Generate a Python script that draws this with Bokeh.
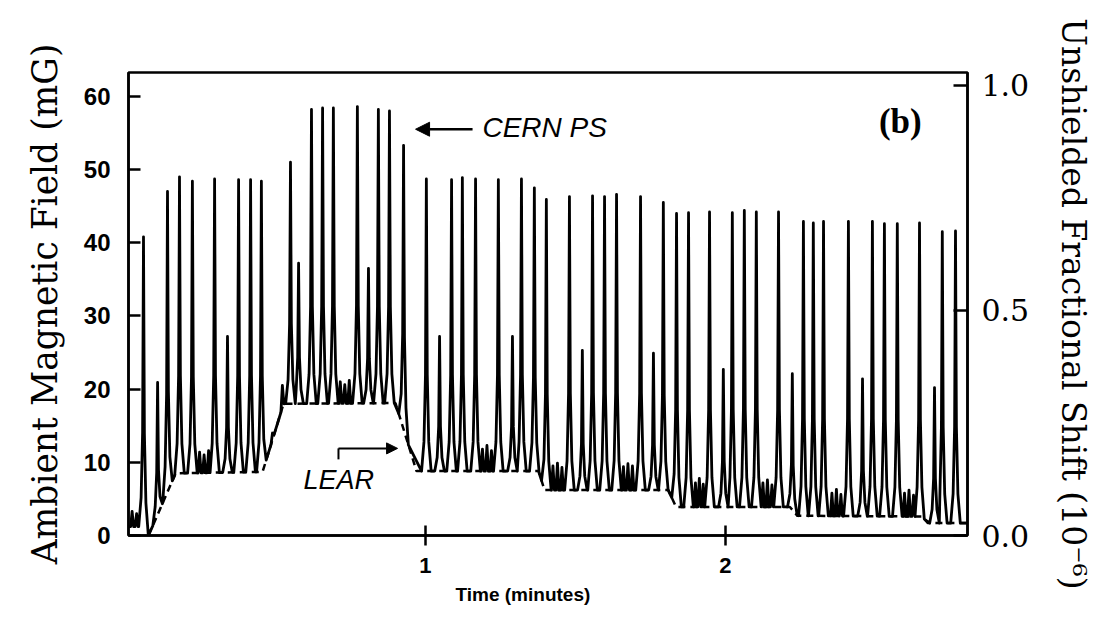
import numpy as np
from bokeh.plotting import figure
from bokeh.models import (Range1d, LinearAxis, FixedTicker, Label, Arrow,
                          NormalHead, PrintfTickFormatter, Title)
from bokeh.embed import file_html
from bokeh.resources import INLINE

# ---------------- data ----------------
# CERN PS pulses: time (minutes), field (mG)
peak_t = [0.060, 0.107, 0.140, 0.180, 0.223, 0.297, 0.340, 0.377, 0.417, 0.453,
          0.550, 0.577, 0.620, 0.657, 0.693, 0.773, 0.810, 0.843, 0.880, 0.927,
          1.003, 1.047, 1.087, 1.123, 1.167, 1.243, 1.290, 1.320, 1.363, 1.403,
          1.480, 1.523, 1.557, 1.597, 1.637, 1.717, 1.760, 1.793, 1.837, 1.877,
          1.947, 1.993, 2.023, 2.063, 2.103, 2.177, 2.223, 2.260, 2.293, 2.327,
          2.410, 2.457, 2.490, 2.530, 2.573, 2.647, 2.697, 2.723, 2.767]
peak_v = [40.8, 20.9, 47.0, 49.0, 48.4, 48.7, 27.2, 48.6, 48.6, 48.4,
          51.0, 37.2, 58.2, 58.4, 58.4, 58.6, 36.5, 58.2, 58.0, 53.3,
          48.7, 27.2, 48.6, 48.9, 48.7, 48.6, 27.2, 48.7, 47.5, 45.9,
          46.3, 25.3, 46.4, 46.3, 46.6, 46.3, 24.9, 45.5, 44.0, 44.1,
          44.2, 22.7, 44.1, 44.4, 44.2, 44.2, 22.1, 42.9, 42.7, 42.9,
          42.9, 21.4, 42.9, 42.6, 42.6, 42.7, 20.2, 41.5, 41.6]

# small ripples between pulses
wiggle_t = [0.022, 0.037, 0.247, 0.262, 0.277, 0.490, 0.523, 0.716, 0.731, 0.746,
            1.190, 1.205, 1.220, 1.425, 1.440, 1.455, 1.660, 1.675, 1.690,
            1.900, 1.913, 1.926, 2.125, 2.140, 2.155, 2.355, 2.370, 2.385,
            2.597, 2.612, 2.627]
wiggle_v = [3.3, 3.0, 11.4, 11.0, 11.6, 14.0, 20.5, 21.0, 20.6, 21.2,
            11.8, 12.3, 11.6, 9.5, 9.9, 9.3, 9.4, 9.8, 9.5,
            7.2, 7.8, 7.0, 7.2, 7.6, 6.9, 5.8, 6.3, 5.6,
            5.8, 6.2, 5.5]

# LEAR contribution (dashed baseline)
lear_t = [0.077, 0.167, 0.457, 0.527, 0.900, 0.970, 1.377, 1.397, 1.810, 1.835,
          2.215, 2.240, 2.655, 2.675, 2.807]
lear_v = [0.0, 8.5, 8.7, 18.0, 18.1, 8.8, 8.8, 6.2, 6.2, 3.9,
          3.9, 2.7, 2.6, 1.7, 1.7]

# level before LEAR starts
pre_t = [0.010, 0.052]
pre_v = [1.2, 1.2]

x_ticks = [1, 2]
y_ticks = [0, 10, 20, 30, 40, 50, 60]
shift_ticks = [0.0, 0.5, 1.0]
mG_per_unit_shift = 61.5

# ---------------- build trace (pulse outline drawn around each read peak) ----
base_t = np.array(pre_t + lear_t)
base_v = np.array(pre_v + lear_v)


def base(t):
    return float(np.interp(t, base_t, base_v))


PULSE_SHAPE = [(-0.016, 0.0), (-0.008, 0.10), (-0.003, 0.33), (0.0, 1.0),
               (0.003, 0.33), (0.008, 0.10), (0.016, 0.0)]
RIPPLE_SHAPE = [(-0.005, 0.0), (0.0, 1.0), (0.005, 0.0)]

events = sorted([(t, v, PULSE_SHAPE) for t, v in zip(peak_t, peak_v)] +
                [(t, v, RIPPLE_SHAPE) for t, v in zip(wiggle_t, wiggle_v)],
                key=lambda e: e[0])
xs = [pre_t[0]]
ys = [base(pre_t[0])]
for t, v, shape in events:
    for dt, frac in shape:
        x = t + dt
        if x <= xs[-1]:
            continue
        b = base(x)
        xs.append(x)
        ys.append(b + frac * (v - b))
xs.append(lear_t[-1])
ys.append(base(lear_t[-1]))

# ---------------- figure ----------------
X0, X1 = 0.010, 2.807
Y0, Y1 = 0.0, 63.25

p = figure(frame_width=839, frame_height=463, output_backend="svg",
           toolbar_location=None, x_range=Range1d(X0, X1), y_range=Range1d(Y0, Y1),
           min_border_left=128, min_border_right=128, min_border_top=72,
           min_border_bottom=100, background_fill_color="white",
           border_fill_color="white")
p.grid.visible = False
p.outline_line_color = "black"
p.outline_line_width = 2.5

p.line(lear_t, lear_v, line_color="black", line_width=2.5, line_dash="7 5")
p.line(xs, ys, line_color="black", line_width=2.8, line_join="round")

# axes
xa = p.xaxis[0]
xa.ticker = FixedTicker(ticks=x_ticks)
xa.major_label_text_font = "Liberation Sans"
xa.major_label_text_font_style = "bold"
xa.major_label_text_font_size = "22px"
xa.major_label_standoff = 12
xa.major_tick_in = 10
xa.major_tick_out = 10
xa.minor_tick_in = 0
xa.minor_tick_out = 0

ya = p.yaxis[0]
ya.ticker = FixedTicker(ticks=y_ticks)
ya.axis_label = "Ambient Magnetic Field (mG)"
ya.axis_label_text_font = "DejaVu Serif"
ya.axis_label_text_font_style = "normal"
ya.axis_label_text_font_size = "34.5px"
ya.axis_label_standoff = 16
ya.major_label_text_font = "Liberation Sans"
ya.major_label_text_font_style = "bold"
ya.major_label_text_font_size = "24px"
ya.major_label_standoff = 18
ya.major_tick_in = 12
ya.major_tick_out = 0
ya.minor_tick_in = 0
ya.minor_tick_out = 0

p.extra_y_ranges = {"shift": Range1d(Y0 / mG_per_unit_shift, Y1 / mG_per_unit_shift)}
ra = LinearAxis(y_range_name="shift", ticker=FixedTicker(ticks=shift_ticks),
                formatter=PrintfTickFormatter(format="%.1f"))
ra.axis_label = "Unshielded Fractional Shift (10\u207b\u2076)"
ra.axis_label_text_font = "DejaVu Serif"
ra.axis_label_text_font_style = "normal"
ra.axis_label_text_font_size = "33px"
ra.axis_label_standoff = 22
ra.major_label_text_font = "DejaVu Serif"
ra.major_label_text_font_size = "30px"
ra.major_label_standoff = 14
ra.major_tick_in = 14
ra.major_tick_out = 0
ra.minor_tick_in = 0
ra.minor_tick_out = 0
p.add_layout(ra, "right")

for ax in (xa, ya, ra):
    ax.axis_line_width = 2.5
    ax.major_tick_line_width = 2.5
    ax.axis_line_color = "black"
    ax.major_tick_line_color = "black"
    ax.major_label_text_color = "black"
    ax.axis_label_text_color = "black"

# x-axis title, set a little left of centre as in the original
p.add_layout(Title(text="Time (minutes)", align="left", offset=327,
                   text_font="Liberation Sans", text_font_style="bold",
                   text_font_size="19px", text_color="black", standoff=12), "below")

# annotations
p.add_layout(Label(x=1.19, y=55.7, text="CERN PS", text_font="Liberation Sans",
                   text_font_style="italic", text_font_size="28px",
                   text_baseline="middle", text_color="black"))
p.add_layout(Arrow(end=NormalHead(size=14, fill_color="black", line_color="black"),
                   x_start=1.157, y_start=55.5, x_end=0.967, y_end=55.5,
                   line_width=2.5, line_color="black"))
p.add_layout(Label(x=0.593, y=7.65, text="LEAR", text_font="Liberation Sans",
                   text_font_style="italic", text_font_size="27px",
                   text_baseline="middle", text_color="black"))
p.add_layout(Arrow(end=None, x_start=0.71, y_start=10.4, x_end=0.71, y_end=11.9,
                   line_width=2, line_color="black"))
p.add_layout(Arrow(end=NormalHead(size=11, fill_color="black", line_color="black"),
                   x_start=0.71, y_start=11.9, x_end=0.907, y_end=11.9,
                   line_width=2, line_color="black"))
p.add_layout(Label(x=2.583, y=56.6, text="(b)", text_font="Liberation Serif",
                   text_font_style="bold", text_font_size="35px",
                   text_align="center", text_baseline="middle", text_color="black"))

open("out.html", "w").write(file_html(p, INLINE))
